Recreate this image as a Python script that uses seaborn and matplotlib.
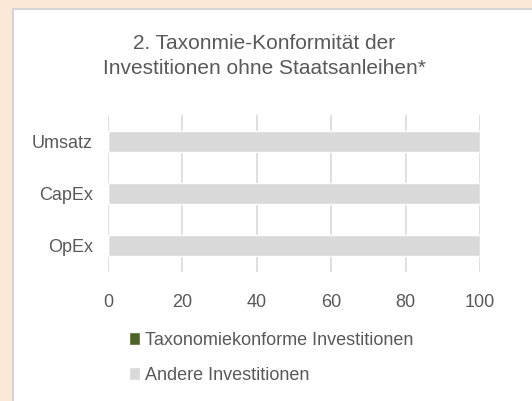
import matplotlib
matplotlib.use("Agg")
import matplotlib.pyplot as plt
from matplotlib.patches import Rectangle
import pandas as pd
import seaborn as sns

# data
categories = ['Umsatz', 'CapEx', 'OpEx']
konform = [0, 0, 0]
andere = [100, 100, 100]
series_labels = ['Taxonomiekonforme Investitionen', 'Andere Investitionen']
x_ticks = [0, 20, 40, 60, 80, 100]

df = pd.DataFrame({'kategorie': categories, 'konform': konform,
                   'andere': andere})
df['gesamt'] = df.konform + df.andere

sns.set_theme(style='white')
plt.rcParams['font.family'] = ['Liberation Sans', 'DejaVu Sans']
txt = '#595959'
grau = '#D9D9D9'
gruen = '#4F6228'

fig = plt.figure(figsize=(5.32, 4.01), dpi=100, facecolor='#FBE8D7')
fig.patches.append(Rectangle((13 / 532, -0.2), 1.2, 1.2 - 9 / 401,
                             transform=fig.transFigure, facecolor='white',
                             edgecolor='#D5D5D5', lw=1.5, zorder=-5))

ax = fig.add_axes([108 / 532, 1 - 272 / 401, 372 / 532, 157 / 401])
ax.set_facecolor('none')

# stacked: andere drawn from total, konform on top from 0
sns.barplot(data=df, x='gesamt', y='kategorie', color=grau, width=0.4,
            saturation=1, ax=ax, label=series_labels[1], zorder=2)
sns.barplot(data=df, x='konform', y='kategorie', color=gruen, width=0.4,
            saturation=1, ax=ax, label=series_labels[0], zorder=3)

ax.set_xlim(0, 100)
ax.set_ylim(2.5, -0.5)
ax.set_xticks(x_ticks)
ax.grid(axis='x', color=grau, lw=1.2, zorder=1)
ax.grid(axis='y', visible=False)
ax.set_axisbelow(True)
for s in ax.spines.values():
    s.set_visible(False)
ax.tick_params(axis='x', length=0, pad=16, labelsize=13, labelcolor=txt)
ax.tick_params(axis='y', length=0, pad=11, labelsize=13, labelcolor=txt)
ax.set_xlabel('')
ax.set_ylabel('')

fig.text(264 / 532, 1 - 56 / 401,
         '2. Taxonmie-Konformität der\nInvestitionen ohne Staatsanleihen*',
         ha='center', va='center', fontsize=15, color=txt, linespacing=1.4)

handles, labels = ax.get_legend_handles_labels()
order = [labels.index(l) for l in series_labels]
ax.legend([handles[i] for i in order], [labels[i] for i in order],
          loc='upper left', bbox_to_anchor=(129 / 532, 1 - 332 / 401),
          bbox_transform=fig.transFigure, frameon=False, fontsize=13,
          labelcolor=txt, handlelength=0.62, handleheight=0.7,
          handletextpad=0.25, labelspacing=1.0, borderpad=0,
          borderaxespad=0)

fig.savefig('out.png', dpi=100, facecolor=fig.get_facecolor())
